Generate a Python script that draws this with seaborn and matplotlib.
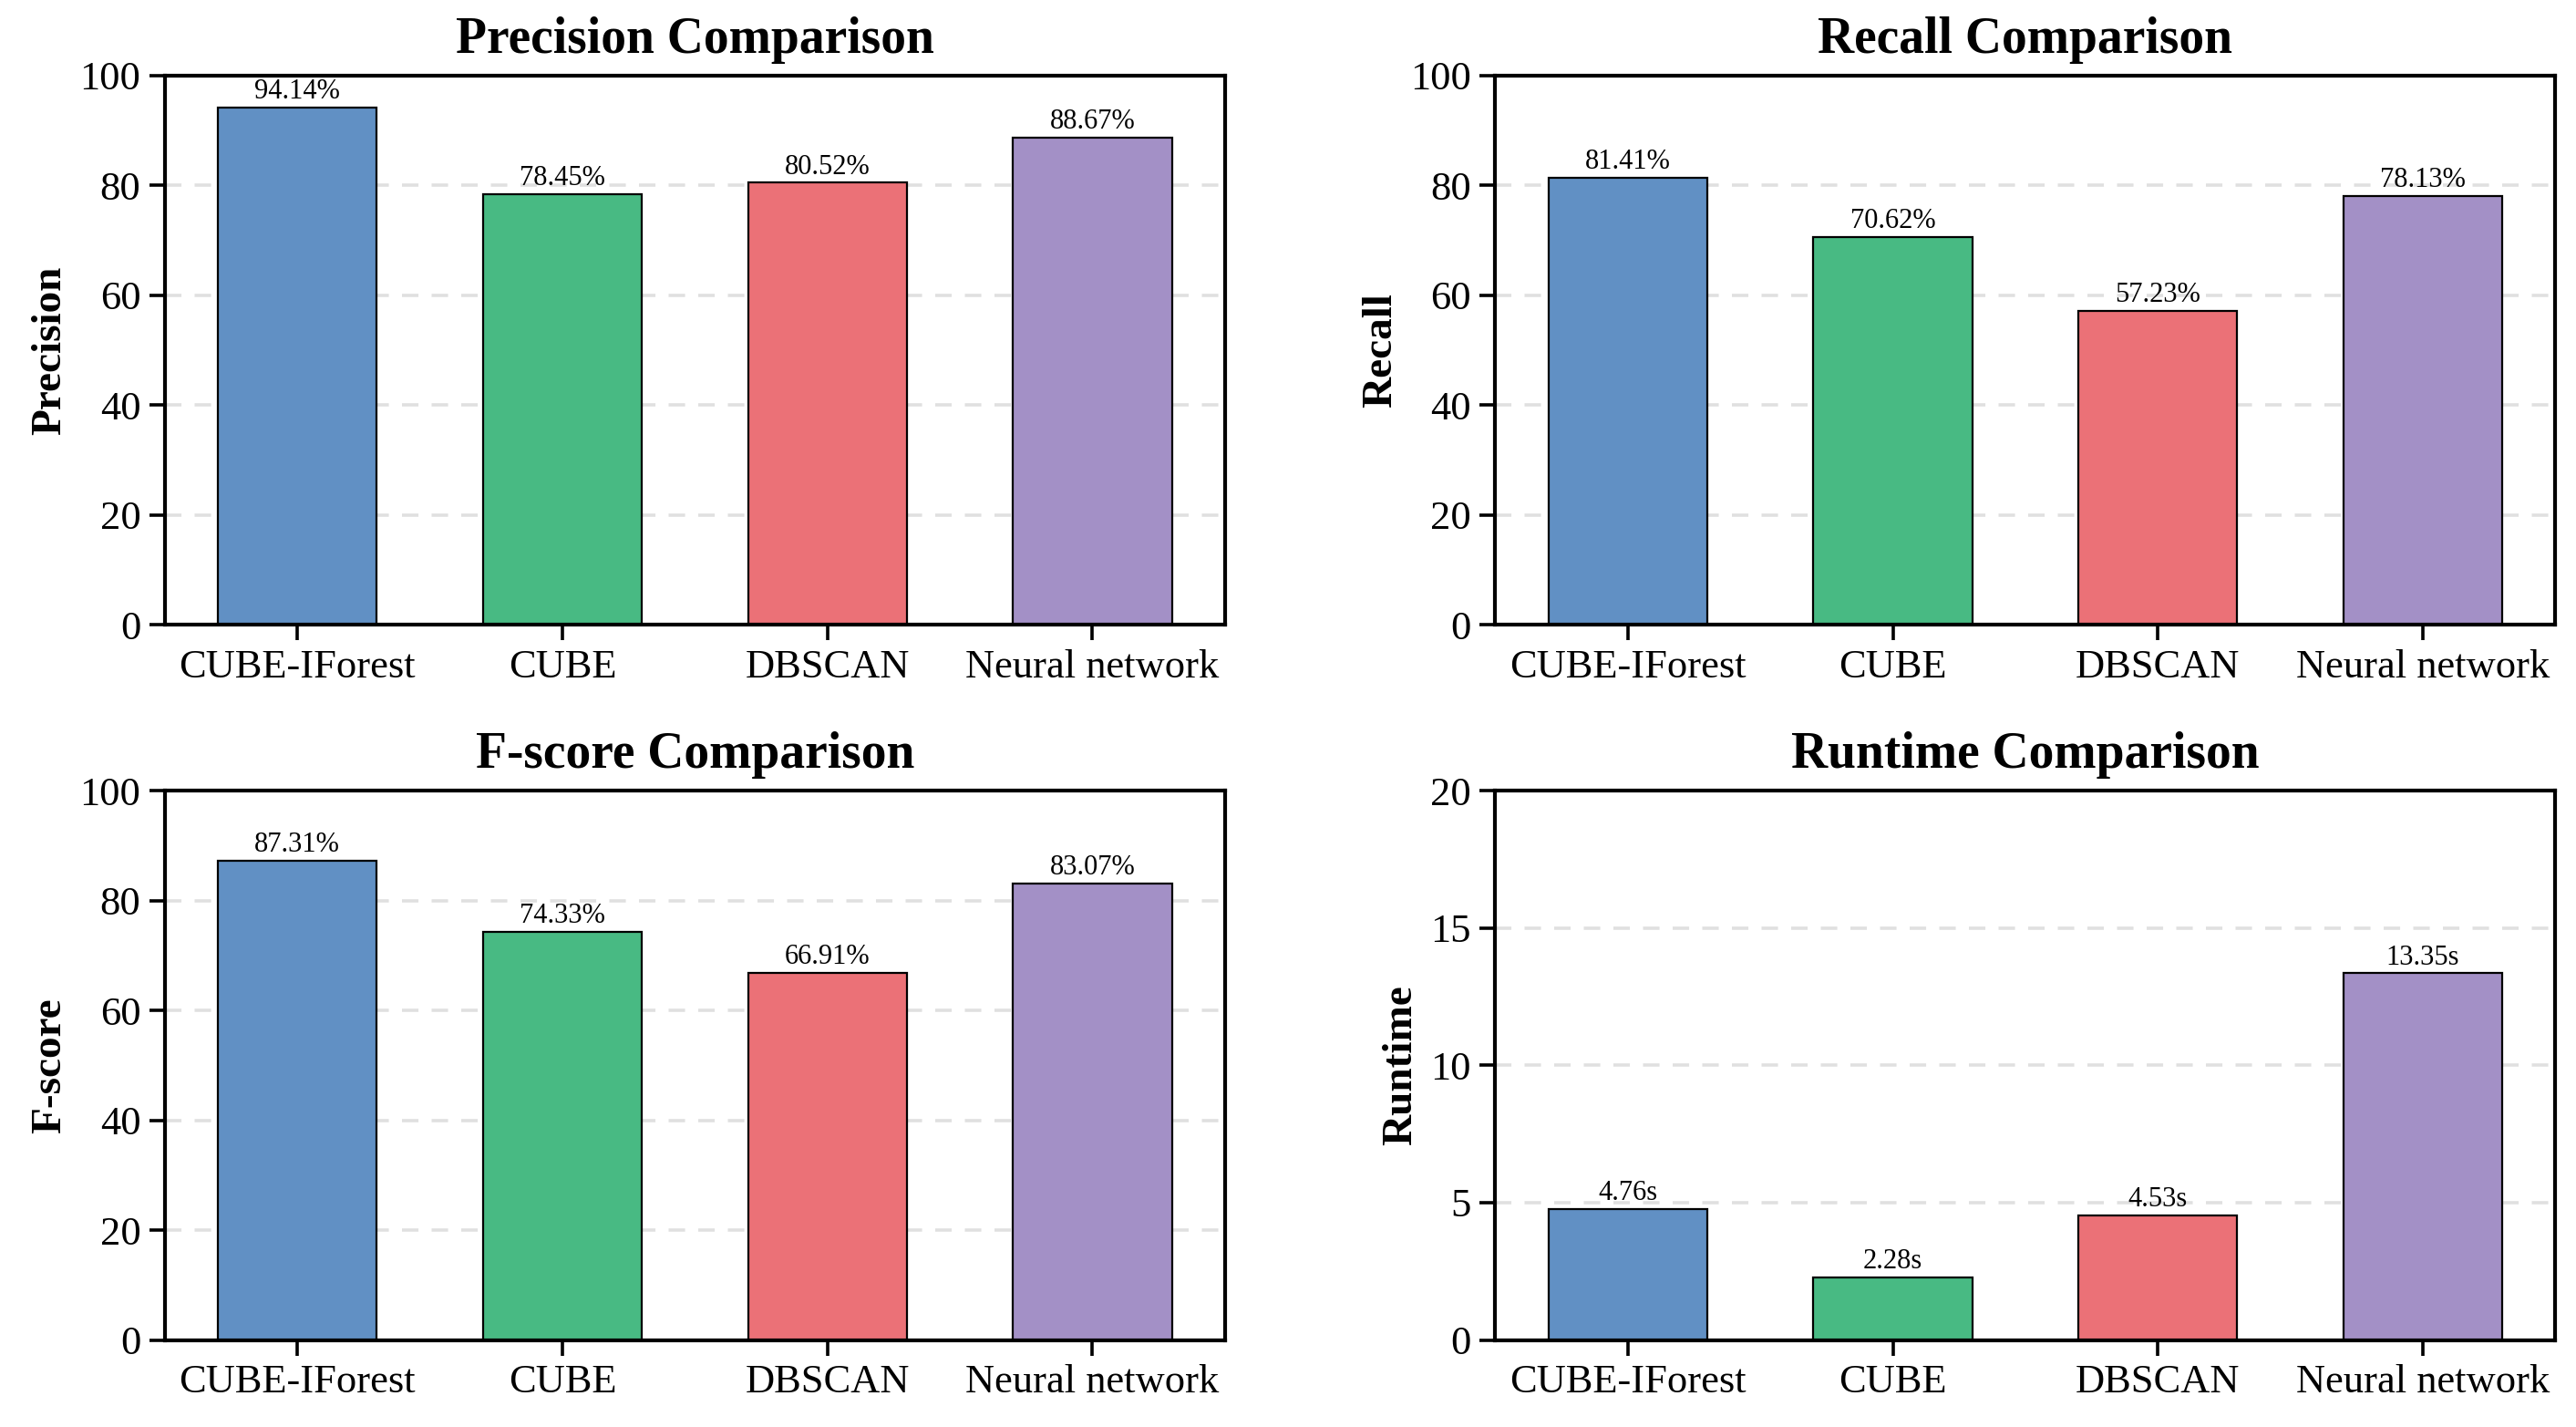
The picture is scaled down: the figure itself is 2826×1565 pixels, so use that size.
import pandas as pd
import seaborn as sns
import matplotlib.pyplot as plt

# Data
methods = ["CUBE-IForest", "CUBE", "DBSCAN", "Neural network"]
precision = [94.14, 78.45, 80.52, 88.67]
recall = [81.41, 70.62, 57.23, 78.13]
fscore = [87.31, 74.33, 66.91, 83.07]
runtime = [4.76, 2.28, 4.53, 13.35]

colors = ["#6190C4", "#48BA83", "#EB7177", "#A390C6"]

sns.set_theme(style="ticks")
plt.rcParams['font.family'] = ['Liberation Serif', 'DejaVu Serif']
plt.rcParams['text.color'] = 'black'
plt.rcParams['axes.labelcolor'] = 'black'
plt.rcParams['xtick.color'] = 'black'
plt.rcParams['ytick.color'] = 'black'

fig, axes = plt.subplots(2, 2, figsize=(14.13, 7.825), dpi=200)
fig.subplots_adjust(left=0.064, right=0.992, top=0.947, bottom=0.061,
                    wspace=0.255, hspace=0.302)

panels = [
    ("Precision", precision, 100, 20, "%.2f%%"),
    ("Recall", recall, 100, 20, "%.2f%%"),
    ("F-score", fscore, 100, 20, "%.2f%%"),
    ("Runtime", runtime, 20, 5, "%.2fs"),
]

for ax, (name, vals, ymax, step, fmt) in zip(axes.flat, panels):
    df = pd.DataFrame({"Method": methods, "Value": vals})
    sns.barplot(data=df, x="Method", y="Value", hue="Method", palette=colors,
                width=0.6, edgecolor="black", linewidth=0.8, legend=False,
                saturation=1, ax=ax)
    for c in ax.containers:
        ax.bar_label(c, fmt=fmt, fontsize=11, padding=1)
    ax.set_ylim(0, ymax)
    ax.set_yticks(range(0, ymax + 1, step))
    ax.yaxis.grid(True, linestyle=(0, (5, 4)), color="#e0e0e0", linewidth=1.3)
    ax.set_axisbelow(True)
    ax.set_title(f"{name} Comparison", fontsize=20, fontweight="bold", pad=9)
    ax.set_ylabel(name, fontsize=17, fontweight="bold")
    ax.set_xlabel("")
    ax.tick_params(axis="both", labelsize=16, width=1.3, length=6)
    for s in ax.spines.values():
        s.set_linewidth(1.5)
        s.set_color("black")

plt.savefig("out.png", dpi=200)
